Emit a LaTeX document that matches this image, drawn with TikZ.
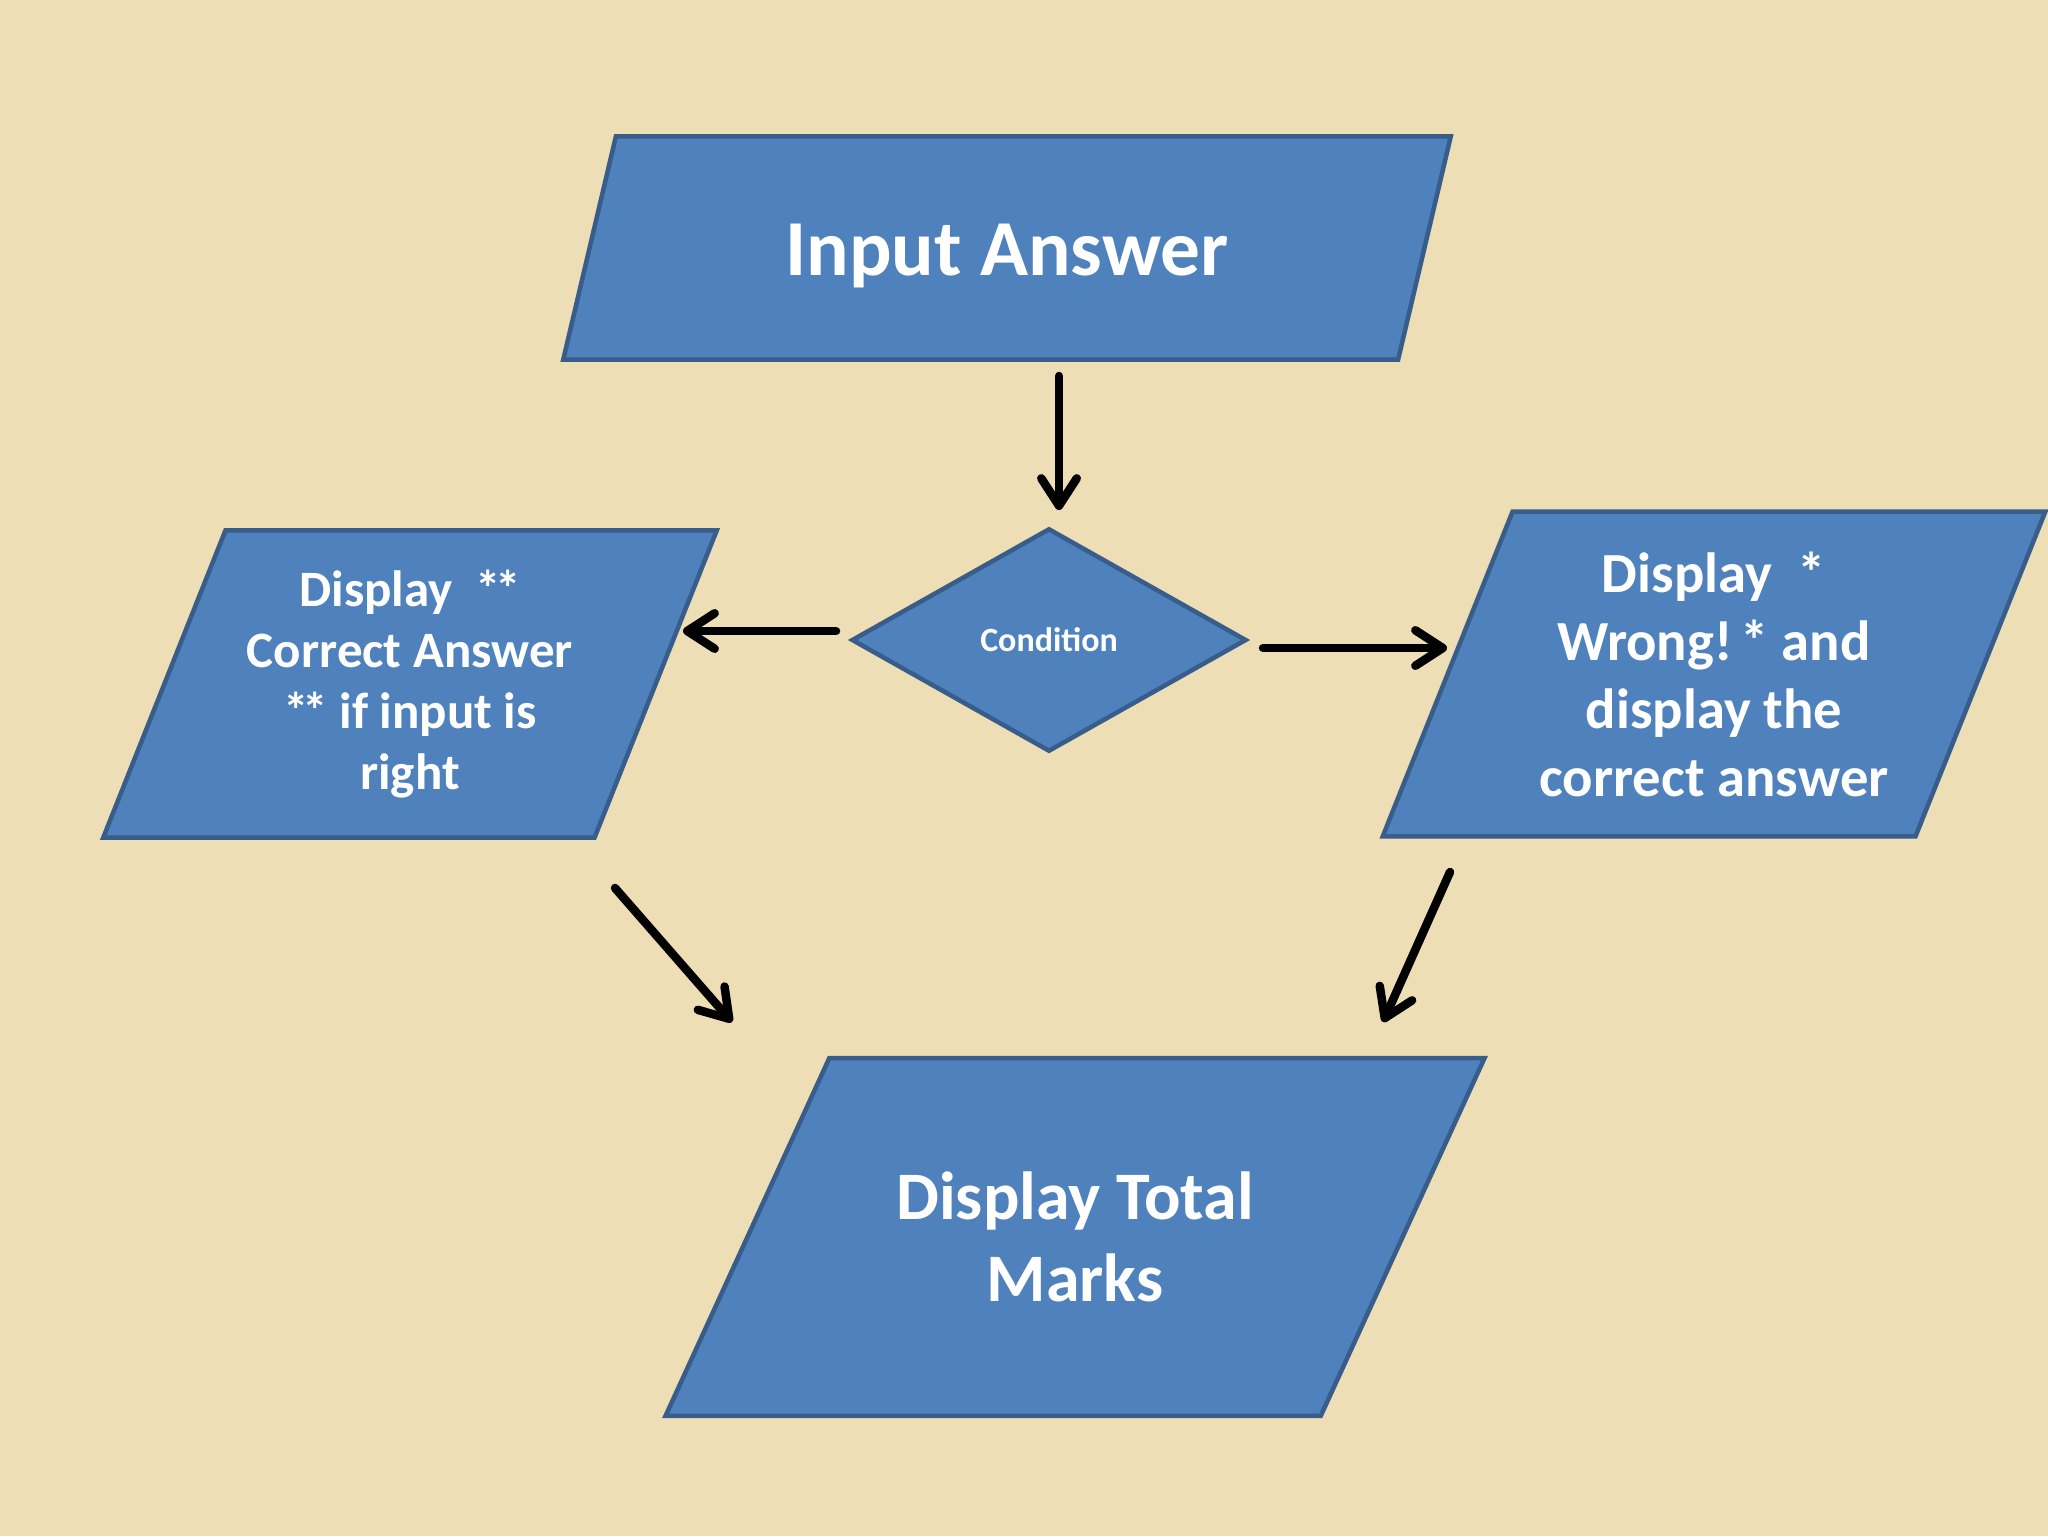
\documentclass[tikz,border=0pt]{standalone}
\usepackage{fontspec}
\setmainfont{Carlito}
\usetikzlibrary{
    arrows.meta,
    shapes.geometric
}
\definecolor{parchment}{RGB}{238,222,182}
\definecolor{boxfill}{RGB}{79,129,189}
\definecolor{boxline}{RGB}{56,93,138}
\definecolor{ink}{RGB}{0,0,0}
\newcommand{\twostars}{*\kern-0.12em*}
\tikzset{
    iobox/.style={
        trapezium,
        trapezium stretches body=true,
        draw=boxline,
        line width=1.6pt,
        fill=boxfill,
        text=white,
        align=center,
        inner xsep=2pt,
        font=\bfseries
    },
    decision/.style={
        diamond,
        draw=boxline,
        line width=1.6pt,
        fill=boxfill,
        text=white,
        inner sep=1pt,
        font=\bfseries\fontsize{12}{14}\selectfont
    },
    flowarrow/.style={
        -{Straight Barb[length=3.4mm, width=4.4mm, round]},
        draw=ink,
        line width=3pt,
        line cap=round
    }
}
\begin{document}
\begin{tikzpicture}[x=0.0124cm, y=-0.0124cm]

% Background
\path[fill=parchment] (0,0) rectangle (2048,1536);
\useasboundingbox (0,0) rectangle (2048,1536);

% Flowchart shapes
\node[iobox, trapezium left angle=76, trapezium right angle=104, inner ysep=26pt,
      minimum width=11.01cm, minimum height=2.77cm,
      font=\bfseries\fontsize{28}{34}\selectfont] (input) at (1007,248)
      {\raisebox{-2.8pt}[\height][\depth]{Input Answer}};
\node[decision, minimum width=4.9cm, minimum height=2.77cm] (cond) at (1049,640) {Condition};
\node[iobox, trapezium left angle=68, trapezium right angle=112, inner ysep=13pt,
      minimum width=7.61cm, minimum height=3.81cm,
      font=\bfseries\fontsize{18}{21.6}\selectfont] (correct) at (410,684)
      {Display\ \ \twostars\\Correct Answer\\\twostars\ if input is\\right};
\node[iobox, trapezium left angle=68, trapezium right angle=112, inner ysep=13.5pt,
      minimum width=8.22cm, minimum height=4.03cm,
      font=\bfseries\fontsize{20}{24}\selectfont] (wrong) at (1714,674)
      {Display\ \ *\\Wrong!\kern-0.08em\ * and\\display the\\correct answer};
\node[iobox, trapezium left angle=65, trapezium right angle=115, inner ysep=39pt,
      minimum width=10.16cm, minimum height=4.44cm,
      font=\bfseries\fontsize{24}{29}\selectfont] (total) at (1075,1237)
      {Display Total\\Marks};

% Arrow ends (arrows float between the shapes)
\coordinate (inputout) at (1059,376);
\coordinate (condtop) at (1059,510);
\coordinate (condleft) at (836,631);
\coordinate (correctin) at (683,631);
\coordinate (condright) at (1263,648);
\coordinate (wrongin) at (1447,648);
\coordinate (correctout) at (615,888);
\coordinate (totalleft) at (732,1022);
\coordinate (wrongout) at (1450,872);
\coordinate (totalright) at (1383,1022);

% Arrows
\draw[flowarrow] (inputout) -- (condtop);
\draw[flowarrow] (condleft) -- (correctin);
\draw[flowarrow] (condright) -- (wrongin);
\draw[flowarrow] (correctout) -- (totalleft);
\draw[flowarrow] (wrongout) -- (totalright);

\end{tikzpicture}
\end{document}
